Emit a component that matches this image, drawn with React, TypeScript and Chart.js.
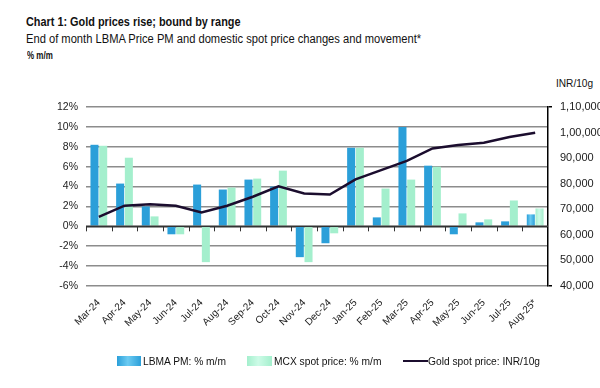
import React, { useEffect, useRef } from "react";
import { Chart, registerables } from "chart.js";

Chart.register(...registerables);

const categories = [
  "Mar-24", "Apr-24", "May-24", "Jun-24", "Jul-24", "Aug-24", "Sep-24", "Oct-24", "Nov-24",
  "Dec-24", "Jan-25", "Feb-25", "Mar-25", "Apr-25", "May-25", "Jun-25", "Jul-25", "Aug-25*",
];
const lbmaPM = [8.2, 4.3, 2.0, -0.8, 4.2, 3.7, 4.7, 4.0, -3.1, -1.7, 7.9, 0.9, 10.0, 6.1, -0.8, 0.4, 0.5, 1.2];
const mcxSpot = [8.1, 6.9, 1.0, -0.8, -3.6, 3.9, 4.8, 5.6, -3.6, -0.7, 7.9, 3.8, 4.7, 6.0, 1.3, 0.7, 2.6, 1.8];
const goldSpot = [67000, 71400, 72000, 71400, 68800, 71400, 74900, 79000, 76200, 75800, 81700, 85300, 88900, 93800, 95100, 96000, 98300, 99900];

const FONT = "'Liberation Sans', Arial, sans-serif";

function indianFormat(v: number): string {
  const s = String(Math.round(v));
  if (s.length <= 3) return s;
  const last3 = s.slice(-3);
  let rest = s.slice(0, -3);
  const parts: string[] = [];
  while (rest.length > 2) {
    parts.unshift(rest.slice(-2));
    rest = rest.slice(0, -2);
  }
  if (rest.length) parts.unshift(rest);
  return parts.join(",") + "," + last3;
}

const barShade = {
  id: "barShade",
  beforeDatasetsDraw(chart: any) {
    const ctx = chart.ctx;
    const stops: Record<number, [string, string]> = {
      1: ["#2b9fd9", "#6ccbf2"],
      2: ["#a4efcd", "#cdfbe7"],
    };
    [1, 2].forEach((di) => {
      const meta = chart.getDatasetMeta(di);
      meta.data.forEach((el: any) => {
        const w = el.width || 8;
        const g = ctx.createLinearGradient(el.x - w / 2, 0, el.x + w / 2, 0);
        g.addColorStop(0, stops[di][0]);
        g.addColorStop(0.45, stops[di][1]);
        g.addColorStop(1, stops[di][0]);
        el.options.backgroundColor = g;
      });
    });
  },
};

const axisDecor = {
  id: "axisDecor",
  afterDatasetsDraw(chart: any) {
    const { ctx, chartArea, scales } = chart;
    const y = scales.y;
    const x = scales.x;
    const y0 = y.getPixelForValue(0);
    ctx.save();
    ctx.strokeStyle = "#333333";
    ctx.lineWidth = 1.5;
    ctx.beginPath();
    ctx.moveTo(chartArea.left, y0);
    ctx.lineTo(chartArea.right, y0);
    ctx.stroke();
    const n = categories.length;
    const w = (chartArea.right - chartArea.left) / n;
    ctx.lineWidth = 1;
    ctx.beginPath();
    for (let i = 0; i <= n - 1; i++) {
      const px = Math.round(x.getPixelForValue(i) - w / 2) + 0.5;
      ctx.moveTo(px, y0);
      ctx.lineTo(px, y0 + 5);
    }
    ctx.stroke();
    ctx.restore();
  },
};

export default function App() {
  const ref = useRef<HTMLCanvasElement | null>(null);

  useEffect(() => {
    if (!ref.current) return;
    const chart = new Chart(ref.current, {
      type: "bar",
      data: {
        labels: categories,
        datasets: [
          {
            type: "line",
            label: "Gold spot price: INR/10g",
            data: goldSpot,
            yAxisID: "y1",
            borderColor: "#1b0d2e",
            borderWidth: 2.5,
            pointRadius: 0,
            tension: 0,
            order: 0,
          } as any,
          {
            label: "LBMA PM: % m/m",
            data: lbmaPM,
            yAxisID: "y",
            backgroundColor: "#3fb1e6",
            categoryPercentage: 0.68,
            barPercentage: 0.92,
            order: 1,
          },
          {
            label: "MCX spot price: % m/m",
            data: mcxSpot,
            yAxisID: "y",
            backgroundColor: "#b2f5d8",
            categoryPercentage: 0.68,
            barPercentage: 0.92,
            order: 1,
          },
        ],
      },
      options: {
        animation: false,
        responsive: false,
        maintainAspectRatio: false,
        layout: { padding: { top: 107, left: 0, right: 0, bottom: 0 } },
        plugins: {
          legend: { display: false },
          tooltip: { enabled: false },
          title: { display: false },
        },
        scales: {
          x: {
            offset: true,
            grid: { display: false },
            border: { display: false },
            ticks: {
              minRotation: 45,
              maxRotation: 45,
              color: "#222",
              font: { family: FONT, size: 10 },
              padding: 3,
            },
            afterFit: (s: any) => {
              s.height = 102;
            },
          },
          y: {
            position: "left",
            min: -6,
            max: 12,
            ticks: {
              stepSize: 2,
              callback: (v: any) => `${v}%`,
              color: "#222",
              font: { family: FONT, size: 10.5 },
              padding: 8,
            },
            grid: {
              color: (c: any) => (c.tick && c.tick.value === 0 ? "#333" : "#8c8c8c"),
              lineWidth: 1.5,
              drawTicks: false,
            },
            border: { display: false },
            afterFit: (s: any) => {
              s.width = 86;
            },
          },
          y1: {
            position: "right",
            min: 40000,
            max: 110000,
            ticks: {
              stepSize: 10000,
              callback: (v: any) => indianFormat(Number(v)),
              color: "#222",
              font: { family: FONT, size: 11 },
              padding: 8,
            },
            grid: {
              drawOnChartArea: false,
              drawTicks: true,
              tickLength: 4,
              color: (c: any) =>
                c.tick && (c.tick.value === 40000 || c.tick.value === 110000) ? "#000" : "rgba(0,0,0,0)",
              lineWidth: 1.5,
            },
            border: { display: true, color: "#000", width: 1.5 },
            afterFit: (s: any) => {
              s.width = 52;
            },
          },
        },
      },
      plugins: [barShade, axisDecor],
    });
    return () => chart.destroy();
  }, []);

  const textBase: React.CSSProperties = {
    position: "absolute",
    fontFamily: FONT,
    color: "#111",
    whiteSpace: "nowrap",
    lineHeight: 1,
    transformOrigin: "left top",
  };

  return (
    <div style={{ position: "absolute", left: 0, top: 0, width: 600, height: 388, background: "#fff", overflow: "hidden" }}>
      <div style={{ ...textBase, left: 26, top: 15.5, fontSize: 12, fontWeight: "bold", transform: "scaleX(0.906)" }}>
        Chart 1: Gold prices rise; bound by range
      </div>
      <div style={{ ...textBase, left: 26, top: 32.5, fontSize: 12, transform: "scaleX(0.93)" }}>
        End of month LBMA Price PM and domestic spot price changes and movement*
      </div>
      <div style={{ ...textBase, left: 27, top: 50.5, fontSize: 10, fontWeight: "bold", transform: "scaleX(0.8)" }}>% m/m</div>
      <div style={{ ...textBase, left: 556, top: 78, fontSize: 11, transform: "scaleX(0.92)" }}>INR/10g</div>
      <canvas ref={ref} width={600} height={388} style={{ position: "absolute", left: 0, top: 0 }} />
      <div style={{ position: "absolute", left: 0, top: 356, width: 600, height: 14 }}>
        <div style={{ position: "absolute", left: 117, top: 0, width: 24, height: 10, background: "linear-gradient(90deg, #2b9fd9, #6ccbf2 45%, #2b9fd9)" }} />
        <div style={{ ...textBase, left: 143, top: 0, fontSize: 11, transform: "scaleX(0.93)" }}>LBMA PM: % m/m</div>
        <div style={{ position: "absolute", left: 247, top: 0, width: 25, height: 10, background: "linear-gradient(90deg, #a4efcd, #cdfbe7 45%, #a4efcd)" }} />
        <div style={{ ...textBase, left: 274, top: 0, fontSize: 11, transform: "scaleX(0.93)" }}>MCX spot price: % m/m</div>
        <div style={{ position: "absolute", left: 403, top: 4, width: 25, height: 2, background: "#1b0d2e" }} />
        <div style={{ ...textBase, left: 428, top: 0, fontSize: 11, transform: "scaleX(0.93)" }}>Gold spot price: INR/10g</div>
      </div>
    </div>
  );
}
